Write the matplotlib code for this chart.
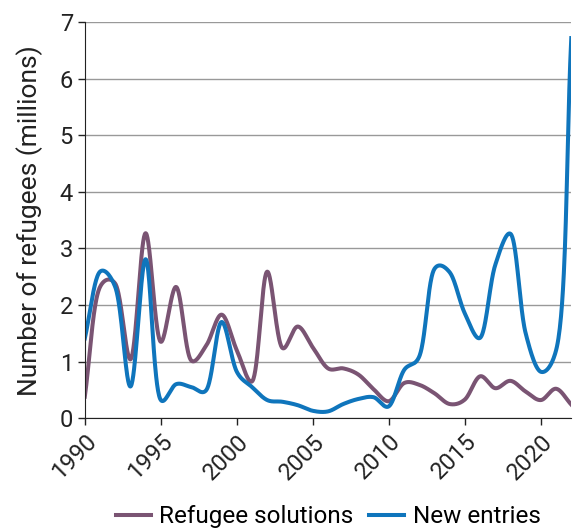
import numpy as np
import matplotlib.pyplot as plt

plt.rcParams['font.family'] = ['Roboto', 'DejaVu Sans']

years = list(range(1990, 2023))
refugee_solutions = [0.38, 2.32, 2.38, 1.04, 3.27, 1.35, 2.32, 1.02, 1.29, 1.83, 1.2,
                     0.65, 2.59, 1.24, 1.62, 1.25, 0.88, 0.88, 0.77, 0.51, 0.3,
                     0.62, 0.59, 0.44, 0.25, 0.33, 0.74, 0.53, 0.66, 0.47, 0.32,
                     0.52, 0.24]
new_entries = [1.41, 2.59, 2.32, 0.56, 2.81, 0.32, 0.6, 0.55, 0.5, 1.7, 0.82,
               0.55, 0.32, 0.29, 0.23, 0.13, 0.12, 0.25, 0.34, 0.37, 0.21,
               0.85, 1.09, 2.64, 2.58, 1.85, 1.42, 2.71, 3.26, 1.5, 0.82,
               1.2, 6.72]

# scale used only to space the spline knots
PX_X = 40.0
PX_Y = 56.6


def smooth(x, y, n=40):
    # centripetal catmull-rom through every point
    P = np.column_stack([np.asarray(x, float) * PX_X, np.asarray(y, float) * PX_Y])
    P = np.vstack([2 * P[0] - P[1], P, 2 * P[-1] - P[-2]])
    out = []
    for i in range(1, len(P) - 2):
        p0, p1, p2, p3 = P[i - 1], P[i], P[i + 1], P[i + 2]
        t0 = 0.0
        t1 = t0 + np.linalg.norm(p1 - p0) ** 0.5
        t2 = t1 + np.linalg.norm(p2 - p1) ** 0.5
        t3 = t2 + np.linalg.norm(p3 - p2) ** 0.5
        t = np.linspace(t1, t2, n)[:, None]
        a1 = (t1 - t) / (t1 - t0) * p0 + (t - t0) / (t1 - t0) * p1
        a2 = (t2 - t) / (t2 - t1) * p1 + (t - t1) / (t2 - t1) * p2
        a3 = (t3 - t) / (t3 - t2) * p2 + (t - t2) / (t3 - t2) * p3
        b1 = (t2 - t) / (t2 - t0) * a1 + (t - t0) / (t2 - t0) * a2
        b2 = (t3 - t) / (t3 - t1) * a2 + (t - t1) / (t3 - t1) * a3
        c = (t2 - t) / (t2 - t1) * b1 + (t - t1) / (t2 - t1) * b2
        out.append(c)
    out = np.vstack(out)
    return out[:, 0] / PX_X, out[:, 1] / PX_Y


fig = plt.figure(figsize=(5.73, 5.30), dpi=100)
ax = fig.add_axes([0.148, 0.211, 0.849, 0.747])

xs, ys = smooth(years, refugee_solutions)
ax.plot(xs, ys, color='#7a5473', lw=2.9, label='Refugee solutions')
xs, ys = smooth(years, new_entries)
ax.plot(xs, ys, color='#0f75bc', lw=2.9, label='New entries')

ax.set_xlim(1990, 2022)
ax.set_ylim(0, 7)
ax.set_yticks(range(0, 8))
ax.set_xticks(range(1990, 2021, 5))
ax.grid(axis='y', color='#999999', lw=1)
ax.set_axisbelow(True)
for s in ['top', 'right']:
    ax.spines[s].set_visible(False)
ax.spines['left'].set_color('#222222')
ax.spines['bottom'].set_color('#222222')
ax.tick_params(labelsize=17, colors='#222222', length=5, width=1)
plt.setp(ax.get_xticklabels(), rotation=45, ha='right', rotation_mode='anchor')
ax.set_ylabel('Number of refugees (millions)', fontsize=19, color='#222222', labelpad=12)

ax.legend(loc='lower center', bbox_to_anchor=(0.5, -0.303), ncol=2, frameon=False,
          fontsize=17.5, handlelength=1.45, columnspacing=0.66, handletextpad=0.33,
          borderaxespad=0)

fig.savefig('out.png', dpi=100)
